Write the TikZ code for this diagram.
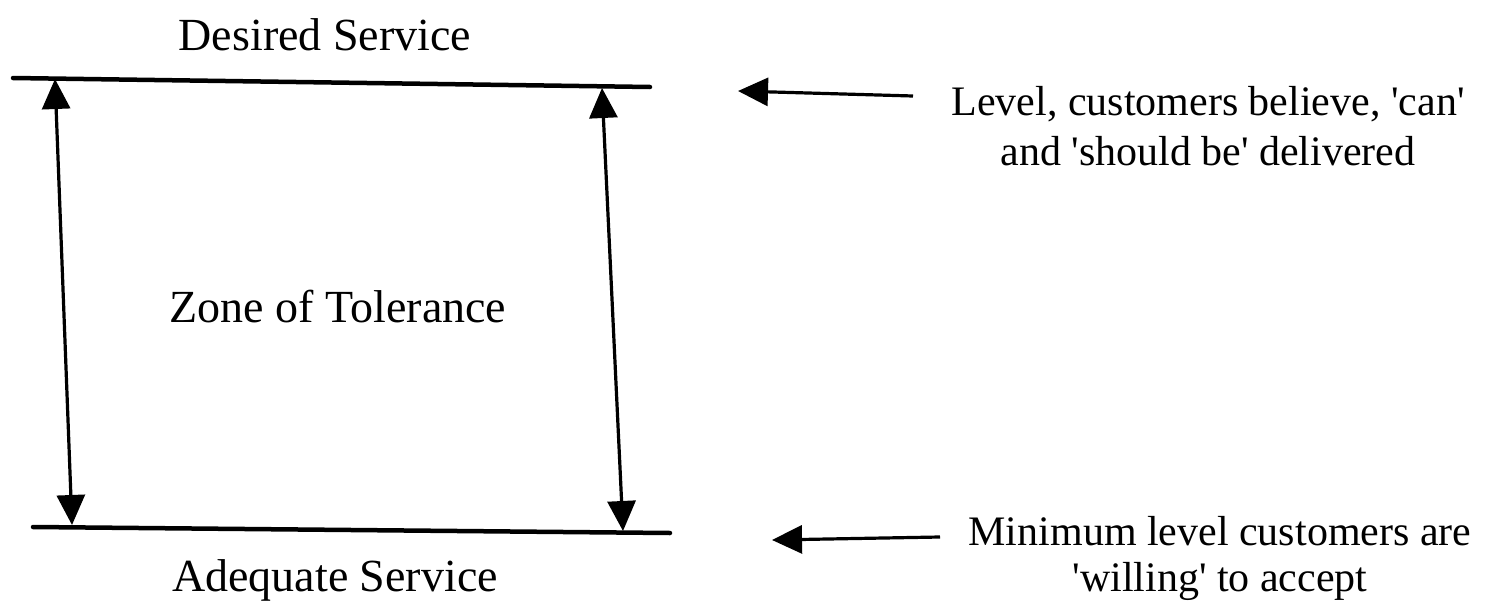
\documentclass[tikz,border=0pt]{standalone}
\usepackage{fontspec}
\setmainfont{Liberation Serif}
\usetikzlibrary{arrows.meta}
\newcommand{\sq}{\textquotesingle}
\begin{document}
\begin{tikzpicture}[x=1pt,y=-1pt,
  level/.style={line width=4.5pt, line cap=round},
  zonearrow/.style={line width=3.2pt, {Triangle[length=30pt,width=28pt]}-{Triangle[length=30pt,width=28pt]}},
  pointer/.style={line width=3.2pt, -{Triangle[length=30pt,width=28pt]}},
  biglabel/.style={inner sep=0pt, font=\fontsize{46}{50}\selectfont},
  sidelabel/.style={inner sep=0pt, align=center, font=\fontsize{42}{50}\selectfont}]
\useasboundingbox (0,0) rectangle (1489,605);
% level lines
\coordinate (tl) at (13,78);
\coordinate (tr) at (650,87);
\coordinate (bl) at (33,527);
\coordinate (br) at (670,533);
\draw[level] (tl) -- (tr);
\draw[level] (bl) -- (br);
% zone arrows
\coordinate (la) at (55,79);
\coordinate (lb) at (72,525);
\coordinate (ra) at (602,88);
\coordinate (rb) at (623,531);
\draw[zonearrow] (la) -- (lb);
\draw[zonearrow] (ra) -- (rb);
% labels
\node[biglabel] (desired) at (325,35) {Desired Service};
\node[biglabel] (zone) at (338,307) {Zone of Tolerance};
\node[biglabel] (adequate) at (335,580) {Adequate Service};
\node[sidelabel, font=\fontsize{42}{46}\selectfont] (desc2) at (1220,558) {Minimum level customers are\\\sq willing\sq\ to accept};
\node[sidelabel] (desc1) at (1208,126) {Level, customers believe, \sq can\sq\\and \sq should be\sq\ delivered};
% pointers
\coordinate (p1tail) at (913,96);
\coordinate (p1tip) at (738,91);
\coordinate (p2tail) at (940,537);
\coordinate (p2tip) at (772,540);
\draw[pointer] (p1tail) -- (p1tip);
\draw[pointer] (p2tail) -- (p2tip);
\end{tikzpicture}
\end{document}
